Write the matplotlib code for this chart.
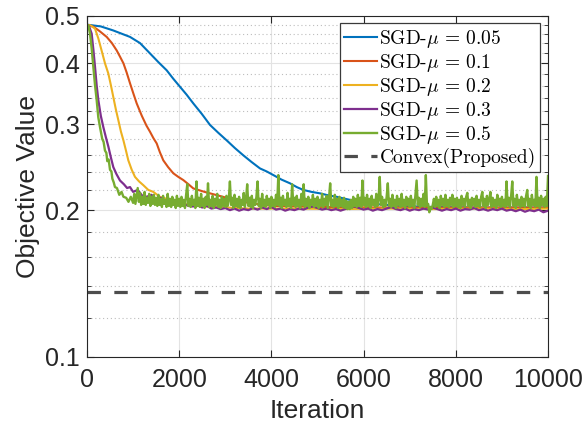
import numpy as np
import matplotlib
matplotlib.use('Agg')
import matplotlib.pyplot as plt
from matplotlib.ticker import FixedLocator, NullFormatter, NullLocator

# ---------------- data ----------------
labels = [r'SGD-$\mu\,=\,0.05$', r'SGD-$\mu\,=\,0.1$', r'SGD-$\mu\,=\,0.2$',
          r'SGD-$\mu\,=\,0.3$', r'SGD-$\mu\,=\,0.5$', 'Convex(Proposed)']
colors = ['#0072BD', '#D95319', '#EDB120', '#7E2F8E', '#77AC30', '#4d4d4d']

blue_it = [0, 300, 570, 933, 1150, 1367, 1550, 1728, 1870, 2017, 2160, 2306, 2490,
           2668, 2850, 3030, 3210, 3392, 3570, 3753, 3900, 4042, 4220, 4403, 4550,
           4692, 4870, 5054, 5230, 5416, 5600, 5800, 6200, 6800, 7500, 8500, 10000]
blue_val = [0.480, 0.476, 0.467, 0.453, 0.440, 0.419, 0.402, 0.387, 0.372, 0.358,
            0.345, 0.331, 0.315, 0.299, 0.288, 0.278, 0.268, 0.259, 0.251, 0.2435,
            0.240, 0.236, 0.231, 0.227, 0.223, 0.220, 0.218, 0.2165, 0.2145, 0.213,
            0.211, 0.209, 0.206, 0.204, 0.203, 0.2025, 0.2025]

orange_it = [0, 146, 280, 427, 540, 644, 720, 790, 860, 933, 1005, 1078, 1190, 1290,
             1367, 1440, 1512, 1580, 1655, 1760, 1872, 1980, 2089, 2200, 2306, 2550,
             2813, 3030, 3247, 3500, 4000, 5000, 6500, 8000, 10000]
orange_val = [0.480, 0.475, 0.465, 0.453, 0.440, 0.425, 0.412, 0.400, 0.383, 0.364,
              0.347, 0.331, 0.312, 0.298, 0.2895, 0.281, 0.274, 0.263, 0.253, 0.245,
              0.238, 0.234, 0.2305, 0.226, 0.2216, 0.218, 0.2147, 0.212, 0.2097,
              0.207, 0.204, 0.203, 0.2025, 0.2025, 0.2025]

yellow_it = [0, 80, 174, 245, 316, 390, 463, 520, 571, 625, 679, 735, 790, 845, 896,
             970, 1041, 1130, 1222, 1330, 1438, 1580, 1728, 1900, 2100, 2400, 2800,
             3500, 4500, 5500, 6500, 7500, 8500, 9500, 10000]
yellow_val = [0.480, 0.478, 0.471, 0.450, 0.425, 0.400, 0.381, 0.360, 0.341, 0.322,
              0.306, 0.290, 0.278, 0.265, 0.253, 0.242, 0.234, 0.229, 0.225, 0.220,
              0.218, 0.213, 0.211, 0.208, 0.206, 0.204, 0.203, 0.2015, 0.2015, 0.201,
              0.2015, 0.201, 0.2015, 0.201, 0.2015]

purple_it = [0, 50, 101, 140, 174, 210, 246, 300, 354, 410, 463, 520, 571, 640, 716,
             800, 870, 933, 1000, 1100, 1200, 1295, 1400, 1500, 1600, 1700, 1800,
             1900, 2000, 2100, 2200]
purple_val = [0.480, 0.475, 0.460, 0.425, 0.393, 0.360, 0.336, 0.312, 0.296, 0.282,
              0.270, 0.256, 0.245, 0.237, 0.230, 0.226, 0.222, 0.223, 0.218, 0.220,
              0.214, 0.213, 0.215, 0.210, 0.212, 0.208, 0.207, 0.206, 0.205, 0.206,
              0.204]
# plateau of purple, 2300 .. 10000 (evenly spaced)
purple_plateau = [0.2035, 0.2045, 0.2025, 0.2040, 0.2015, 0.2025, 0.2010, 0.2020,
                  0.2000, 0.2015, 0.1995, 0.2010, 0.2000, 0.2020, 0.2005, 0.2025,
                  0.2010, 0.2030, 0.2005, 0.2015, 0.1995, 0.2010, 0.2000, 0.2015,
                  0.2005, 0.2025, 0.2035, 0.2020, 0.2005, 0.2015, 0.2000, 0.2010,
                  0.1995, 0.2010, 0.2025, 0.2035, 0.2020, 0.2005, 0.2015, 0.1995,
                  0.2010, 0.2000, 0.2015, 0.2030, 0.2010, 0.2000, 0.2015, 0.1995,
                  0.2010, 0.2000, 0.2015, 0.2005, 0.2025, 0.2010, 0.1995, 0.2010,
                  0.2000, 0.2015, 0.1995, 0.2010, 0.2005, 0.2020, 0.2000, 0.2010,
                  0.1995, 0.2010, 0.2000, 0.2015, 0.1995, 0.2005, 0.1990, 0.2005,
                  0.1985, 0.2000, 0.1990, 0.2005, 0.1980, 0.1995]

green_it = [0, 30, 65, 100, 137, 175, 210, 245, 282, 330, 360, 390, 420, 440, 470,
            499, 530, 550, 580, 607, 650, 700, 750, 790, 850, 900, 950]
green_val = [0.480, 0.478, 0.460, 0.430, 0.393, 0.360, 0.336, 0.310, 0.296, 0.280,
             0.276, 0.265, 0.262, 0.252, 0.254, 0.242, 0.240, 0.232, 0.228, 0.223,
             0.222, 0.215, 0.218, 0.213, 0.212, 0.208, 0.213]
# plateau of green, 1000 .. 10000 every 25 iterations (one row = 500 iterations)
green_plateau = [
    0.207, 0.216, 0.206, 0.214, 0.222, 0.208, 0.217, 0.205, 0.213, 0.206,
    0.218, 0.205, 0.212, 0.207, 0.216, 0.204, 0.213, 0.206, 0.215, 0.205,
    0.212, 0.204, 0.215, 0.205, 0.211, 0.203, 0.214, 0.206, 0.210, 0.203,
    0.216, 0.204, 0.211, 0.203, 0.213, 0.205, 0.210, 0.202, 0.214, 0.204,
    0.211, 0.203, 0.213, 0.204, 0.210, 0.202, 0.215, 0.226, 0.204, 0.211,
    0.203, 0.214, 0.205, 0.210, 0.202, 0.229, 0.204, 0.212, 0.203, 0.216,
    0.204, 0.211, 0.202, 0.213, 0.205, 0.227, 0.203, 0.210, 0.204, 0.214,
    0.202, 0.211, 0.205, 0.216, 0.203, 0.210, 0.202, 0.213, 0.204, 0.211,
    0.203, 0.214, 0.204, 0.210, 0.229, 0.205, 0.212, 0.202, 0.215, 0.204,
    0.211, 0.203, 0.213, 0.202, 0.210, 0.205, 0.217, 0.203, 0.211, 0.226,
    0.204, 0.212, 0.203, 0.214, 0.202, 0.210, 0.205, 0.213, 0.229, 0.204,
    0.211, 0.202, 0.216, 0.204, 0.210, 0.203, 0.214, 0.205, 0.211, 0.202,
    0.213, 0.204, 0.210, 0.203, 0.215, 0.205, 0.236, 0.204, 0.212, 0.202,
    0.214, 0.205, 0.210, 0.203, 0.217, 0.204, 0.211, 0.202, 0.226, 0.205,
    0.212, 0.203, 0.214, 0.204, 0.210, 0.202, 0.216, 0.205, 0.226, 0.203,
    0.211, 0.204, 0.213, 0.202, 0.210, 0.205, 0.215, 0.203, 0.211, 0.204,
    0.213, 0.202, 0.210, 0.204, 0.216, 0.203, 0.211, 0.205, 0.214, 0.202,
    0.212, 0.227, 0.204, 0.210, 0.203, 0.215, 0.204, 0.211, 0.202, 0.213,
    0.204, 0.210, 0.203, 0.212, 0.202, 0.209, 0.201, 0.208, 0.201, 0.210,
    0.202, 0.213, 0.204, 0.211, 0.203, 0.215, 0.204, 0.212, 0.203, 0.230,
    0.205, 0.212, 0.203, 0.215, 0.204, 0.211, 0.202, 0.214, 0.205, 0.210,
    0.203, 0.216, 0.204, 0.211, 0.234, 0.205, 0.213, 0.203, 0.210, 0.204,
    0.213, 0.227, 0.204, 0.211, 0.203, 0.215, 0.204, 0.210, 0.202, 0.214,
    0.205, 0.211, 0.203, 0.216, 0.204, 0.210, 0.202, 0.213, 0.205, 0.211,
    0.203, 0.214, 0.204, 0.210, 0.202, 0.215, 0.230, 0.205, 0.212, 0.203,
    0.211, 0.204, 0.216, 0.203, 0.236, 0.204, 0.206, 0.198, 0.203, 0.201,
    0.205, 0.211, 0.203, 0.213, 0.204, 0.210, 0.202, 0.214, 0.205, 0.211,
    0.203, 0.215, 0.204, 0.210, 0.203, 0.212, 0.205, 0.215, 0.203, 0.211,
    0.204, 0.212, 0.203, 0.210, 0.202, 0.214, 0.205, 0.211, 0.203, 0.213,
    0.217, 0.204, 0.210, 0.202, 0.212, 0.205, 0.211, 0.203, 0.214, 0.204,
    0.210, 0.203, 0.213, 0.218, 0.204, 0.211, 0.202, 0.214, 0.205, 0.210,
    0.218, 0.203, 0.212, 0.204, 0.210, 0.202, 0.215, 0.205, 0.211, 0.203,
    0.213, 0.204, 0.210, 0.203, 0.229, 0.205, 0.212, 0.203, 0.214, 0.229,
    0.204, 0.211, 0.202, 0.215, 0.205, 0.210, 0.203, 0.213, 0.204, 0.211,
    0.203, 0.214, 0.220, 0.204, 0.211, 0.202, 0.215, 0.205, 0.210, 0.203,
    0.234, 0.204, 0.212, 0.202, 0.214, 0.205, 0.211, 0.203, 0.213, 0.204,
    0.235]

convex_it = [0, 10000]
convex_val = [0.136, 0.136]

x_ticks = [0, 2000, 4000, 6000, 8000, 10000]
y_major = [0.1, 0.2, 0.3, 0.4, 0.5]
y_major_labels = ['0.1', '0.2', '0.3', '0.4', '0.5']
y_minor = [0.12, 0.14, 0.16, 0.18, 0.22, 0.24, 0.26, 0.28, 0.32, 0.34, 0.36, 0.38,
           0.42, 0.44, 0.46, 0.48]

# ---------------- build series ----------------
purple_plateau_it = np.linspace(2300, 10000, len(purple_plateau))
green_plateau_it = np.linspace(1000, 10000, len(green_plateau))

series = [
    (np.array(blue_it), np.array(blue_val)),
    (np.array(orange_it), np.array(orange_val)),
    (np.array(yellow_it), np.array(yellow_val)),
    (np.concatenate([purple_it, purple_plateau_it]), np.concatenate([purple_val, purple_plateau])),
    (np.concatenate([green_it, green_plateau_it]), np.concatenate([green_val, green_plateau])),
]
line_widths = [1.5, 1.5, 1.5, 1.6, 1.7]

plt.rcParams['mathtext.fontset'] = 'cm'
plt.rcParams['font.family'] = ['Liberation Sans', 'DejaVu Sans']

W, H = 586, 432
fig = plt.figure(figsize=(W / 100, H / 100), dpi=100)
ax = fig.add_axes([87 / W, 1 - 357 / H, (548 - 87) / W, (357 - 16) / H])
ax.set_yscale('log')

for (xs, ys), c, lab, lw in zip(series, colors[:5], labels[:5], line_widths):
    ax.plot(xs, ys, color=c, lw=lw, label=lab)
ax.plot(convex_it, convex_val, color=colors[5], lw=2.3, ls=(0, (4.2, 4.2)),
        label=labels[5])

ax.set_xlim(0, 10000)
ax.set_ylim(0.1, 0.5)
ax.set_xticks(x_ticks)
ax.set_xticklabels([str(v) for v in x_ticks])
ax.xaxis.set_minor_locator(NullLocator())
ax.yaxis.set_major_locator(FixedLocator(y_major))
ax.set_yticklabels(y_major_labels)
ax.yaxis.set_minor_locator(FixedLocator(y_minor))
ax.yaxis.set_minor_formatter(NullFormatter())

ax.grid(which='major', color='#e3e3e3', lw=0.8, ls='-')
ax.grid(which='minor', axis='y', color='#bdbdbd', lw=0.8, ls=(0, (1, 2.5)))
ax.set_axisbelow(True)

for s in ax.spines.values():
    s.set_color('#262626')
    s.set_linewidth(0.8)
ax.tick_params(which='both', direction='in', top=True, right=True,
               colors='#262626', labelsize=18)
ax.tick_params(which='major', length=5, width=0.8)
ax.tick_params(axis='x', which='major', pad=8)
ax.tick_params(axis='y', which='major', pad=5)
ax.tick_params(which='minor', length=3, width=0.6)

ax.set_xlabel('Iteration', fontsize=19, color='#262626', labelpad=5)
ax.set_ylabel('Objective Value', fontsize=19, color='#262626', labelpad=4)

leg = ax.legend(loc='upper right', bbox_to_anchor=(540 / W, 1 - 23.5 / H),
                bbox_transform=fig.transFigure,
                prop={'family': 'cmr10', 'size': 14},
                frameon=True, fancybox=False, framealpha=1, edgecolor='#3a3a3a',
                borderaxespad=0.0, handlelength=1.65, handletextpad=0.15,
                labelspacing=0.1, borderpad=0.22)
leg.get_frame().set_linewidth(0.9)

fig.savefig('out.png', dpi=100)
